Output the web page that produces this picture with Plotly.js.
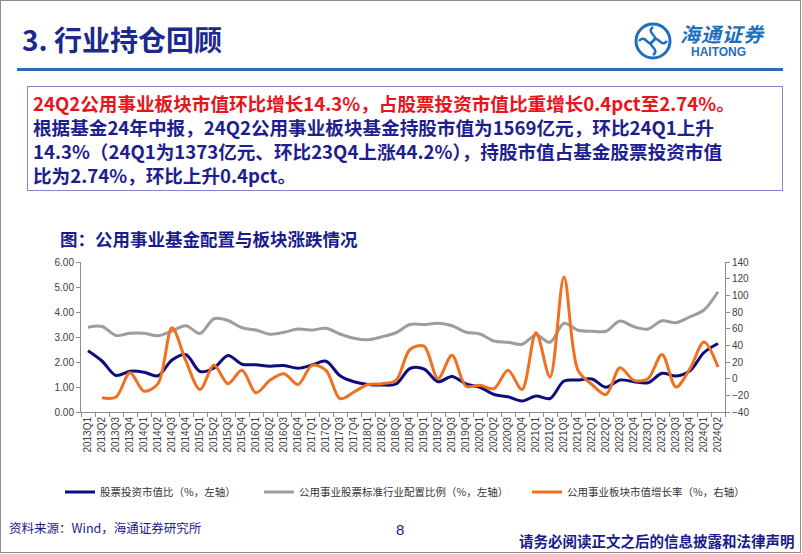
<!DOCTYPE html>
<html>
<head>
<meta charset="utf-8">
<script src="https://cdn.plot.ly/plotly-3.0.1.min.js"></script>
<style>
  body { margin: 0; background: #fff; }
  #page { position: relative; width: 802px; height: 554px; overflow: hidden; font-family: "Noto Sans CJK SC", sans-serif; }
  #frame { position: absolute; left: 0; top: 0; width: 799px; height: 551px; border: 1.5px solid #8c8c8c; }
  #myPlot { position: absolute; left: 0; top: 0; width: 802px; height: 554px; }
  .txt { position: absolute; white-space: nowrap; }
  #title { left: 22px; top: 21px; font-size: 28px; font-weight: bold; color: #1b2a8c; line-height: 36px; }
  #rule { position: absolute; left: 17px; top: 68px; width: 766px; height: 3px; background: #2b6cb5; }
  #box { position: absolute; left: 27px; top: 86px; width: 754px; height: 103px; border: 1.5px solid #8686c6; }
  #box div { position: absolute; left: 5px; font-size: 18.6px; line-height: 22px; font-weight: bold; color: #1e1e8e; white-space: nowrap; }
  #chartTitle { left: 60px; top: 228px; font-size: 17.5px; line-height: 22px; font-weight: bold; color: #1b1b8c; }
  #source { left: 9px; top: 520px; font-size: 12.5px; line-height: 16px; color: #1b1b8c; }
  #pageNo { left: 396px; top: 521px; font-size: 15px; line-height: 18px; color: #1b1b8c; font-family: "Liberation Sans", Arial, sans-serif; }
  #disclaimer { left: 519px; top: 532px; font-size: 14.5px; line-height: 18px; font-weight: bold; color: #1b1b8c; }
  #logoCn { left: 680px; top: 23px; font-size: 20px; line-height: 21px; font-weight: bold; color: #1f6fbf; font-style: italic; letter-spacing: 1px; }
  #logoEn { left: 691px; top: 46px; font-size: 12px; line-height: 13px; font-weight: bold; color: #1f6fbf; font-family: "Liberation Sans", Arial, sans-serif; }
</style>
</head>
<body>
<div id="page">
  <div id="myPlot"></div>
  <div id="frame"></div>
  <div class="txt" id="title">3. 行业持仓回顾</div>
  <svg style="position:absolute;left:633px;top:21px" width="40" height="40" viewBox="0 0 40 40">
    <circle cx="20" cy="20" r="17" fill="none" stroke="#1f6fbf" stroke-width="3"/>
    <path d="M20 6 C12 12, 28 16, 20 20 C12 24, 28 28, 20 34" fill="none" stroke="#1f6fbf" stroke-width="2.5"/>
    <path d="M6 20 C12 12, 16 28, 20 20 C24 12, 28 28, 34 20" fill="none" stroke="#1f6fbf" stroke-width="2.5"/>
  </svg>
  <div class="txt" id="logoCn">海通证券</div>
  <div class="txt" id="logoEn">HAITONG</div>
  <div id="rule"></div>
  <div id="box">
    <div style="top:5px;color:#e8141c">24Q2公用事业板块市值环比增长14.3%，占股票投资市值比重增长0.4pct至2.74%。</div>
    <div style="top:29px">根据基金24年中报，24Q2公用事业板块基金持股市值为1569亿元，环比24Q1上升</div>
    <div style="top:53px">14.3%（24Q1为1373亿元、环比23Q4上涨44.2%），持股市值占基金股票投资市值</div>
    <div style="top:77px">比为2.74%，环比上升0.4pct。</div>
  </div>
  <div class="txt" id="chartTitle">图：公用事业基金配置与板块涨跌情况</div>
  <div class="txt" id="source">资料来源：Wind，海通证券研究所</div>
  <div class="txt" id="pageNo">8</div>
  <div class="txt" id="disclaimer">请务必阅读正文之后的信息披露和法律声明</div>
</div>
<script>
// quarters on the x axis
const quarters = [
  "2013Q1","2013Q2","2013Q3","2013Q4","2014Q1","2014Q2","2014Q3","2014Q4",
  "2015Q1","2015Q2","2015Q3","2015Q4","2016Q1","2016Q2","2016Q3","2016Q4",
  "2017Q1","2017Q2","2017Q3","2017Q4","2018Q1","2018Q2","2018Q3","2018Q4",
  "2019Q1","2019Q2","2019Q3","2019Q4","2020Q1","2020Q2","2020Q3","2020Q4",
  "2021Q1","2021Q2","2021Q3","2021Q4","2022Q1","2022Q2","2022Q3","2022Q4",
  "2023Q1","2023Q2","2023Q3","2023Q4","2024Q1","2024Q2"
];

// 股票投资市值比 (%, left axis)
const stockRatio = [
  2.45,2.04,1.46,1.63,1.59,1.45,2.08,2.29,1.62,1.76,2.26,1.91,1.89,1.83,1.86,1.75,
  1.88,2.03,1.45,1.21,1.10,1.08,1.12,1.74,1.72,1.21,1.42,1.12,0.99,0.70,0.61,0.44,
  0.64,0.54,1.24,1.28,1.32,0.99,1.28,1.21,1.17,1.55,1.44,1.65,2.38,2.74
];

// 公用事业股票标准行业配置比例 (%, left axis)
const standardRatio = [
  3.39,3.42,3.06,3.15,3.15,3.05,3.24,3.45,3.14,3.73,3.66,3.37,3.28,3.11,3.19,3.32,
  3.28,3.35,3.12,2.95,2.89,3.01,3.17,3.50,3.50,3.55,3.45,3.19,3.12,2.84,2.79,2.71,
  3.08,2.79,3.55,3.27,3.23,3.23,3.64,3.41,3.32,3.65,3.57,3.81,4.08,4.81
];

// 公用事业板块市值增长率 (%, right axis)
const sectorGrowth = [
  null,-23,-22,7,-15,-6,61,21,-13,16,-6,10,-17,-2,6,-7,
  16,10,-24,-16,-7,-6,-2,35,39,0,28,-9,-8,-12,10,-13,
  55,2,122,10,-7,-19,13,-2,0,29,-10,12,44,14
];

const tickFont = {family: "Liberation Sans, Arial, sans-serif", size: 10, color: "#404040"};
const legendFont = {family: "Noto Sans CJK SC, sans-serif", size: 10.5, color: "#333"};

const data = [
  {
    x: quarters, y: stockRatio, mode: "lines", name: "股票投资市值比（%，左轴）",
    line: {color: "#0d0d7e", width: 3, shape: "spline", smoothing: 0.9},
    legend: "legend"
  },
  {
    x: quarters, y: standardRatio, mode: "lines", name: "公用事业股票标准行业配置比例（%，左轴）",
    line: {color: "#9d9d9d", width: 3, shape: "spline", smoothing: 0.9},
    legend: "legend2"
  },
  {
    x: quarters, y: sectorGrowth, mode: "lines", name: "公用事业板块市值增长率（%，右轴）",
    yaxis: "y2", line: {color: "#f07020", width: 3, shape: "spline", smoothing: 0.9},
    legend: "legend3"
  }
];

const legendBase = {orientation: "h", xref: "container", yref: "container", yanchor: "middle",
  y: 1 - 492 / 554, font: legendFont, bgcolor: "rgba(0,0,0,0)", itemwidth: 30};

const layout = {
  width: 802, height: 554,
  margin: {l: 81, r: 77, t: 262, b: 142, autoexpand: false},
  paper_bgcolor: "rgba(0,0,0,0)", plot_bgcolor: "rgba(0,0,0,0)",
  showlegend: true,
  xaxis: {
    type: "category", range: [-0.5, 45.5], tickangle: -90, tickfont: tickFont,
    showline: true, linecolor: "#8c8c8c", linewidth: 1, ticks: "outside", ticklen: 4,
    tickcolor: "#8c8c8c", tickson: "boundaries", showgrid: false
  },
  yaxis: {
    range: [0, 6], dtick: 1, tickformat: ".2f", tickfont: tickFont,
    showline: true, linecolor: "#8c8c8c", ticks: "outside", ticklen: 4, tickcolor: "#8c8c8c",
    showgrid: false, zeroline: false
  },
  yaxis2: {
    range: [-40, 140], dtick: 20, overlaying: "y", side: "right", tickfont: tickFont,
    showline: true, linecolor: "#8c8c8c", ticks: "outside", ticklen: 4, tickcolor: "#8c8c8c",
    showgrid: false, zeroline: false
  },
  legend: Object.assign({}, legendBase, {x: 60 / 802}),
  legend2: Object.assign({}, legendBase, {x: 259 / 802}),
  legend3: Object.assign({}, legendBase, {x: 527 / 802})
};

Plotly.newPlot("myPlot", data, layout, {staticPlot: true});
</script>
</body>
</html>
